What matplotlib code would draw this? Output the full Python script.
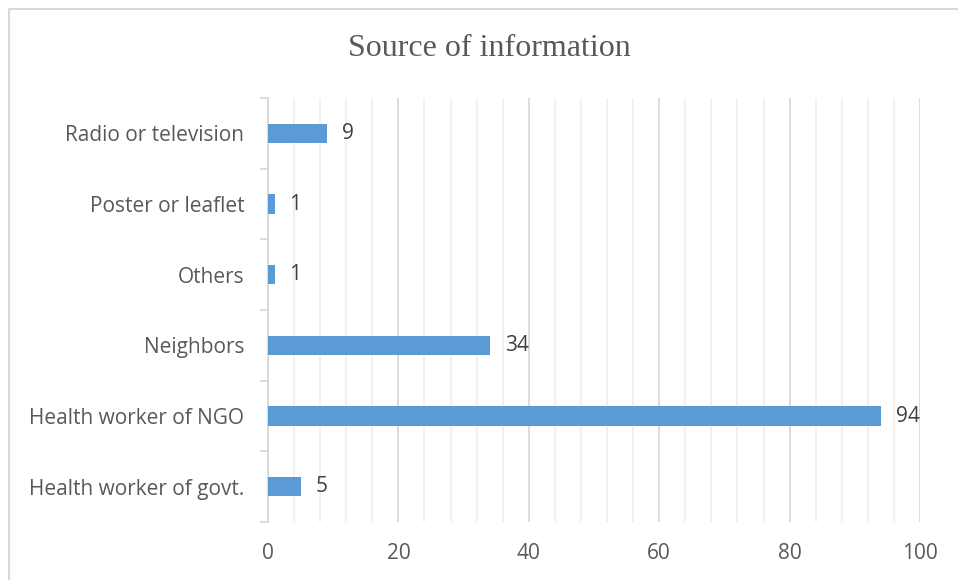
import matplotlib
matplotlib.use("Agg")
import matplotlib.pyplot as plt
from matplotlib.patches import Rectangle
import numpy as np

categories = ["Health worker of govt.", "Health worker of NGO", "Neighbors",
              "Others", "Poster or leaflet", "Radio or television"]
values = [5, 94, 34, 1, 1, 9]
x_ticks = [0, 20, 40, 60, 80, 100]

plt.rcParams['font.family'] = ['Open Sans', 'DejaVu Sans']
text_col = "#595959"

fig = plt.figure(figsize=(9.58, 5.8), dpi=100)
fig.patch.set_facecolor("white")
# outer chart frame
fig.patches.append(Rectangle((9/958, -0.1), 1.2, 1 - 9/580 + 0.1,
                             transform=fig.transFigure, fill=False,
                             edgecolor="#D9D9D9", linewidth=1.5))

ax = fig.add_axes([268/958, 1 - 522/580, (920-268)/958, (522-98)/580])
y = np.arange(len(categories))
ax.barh(y, values, height=0.27, color="#5B9BD5", zorder=3)
for yi, v in zip(y, values):
    ax.text(v + 2.3, yi, str(v), va="center", ha="left", fontsize=15, color="#404040")

ax.set_xlim(0, 100)
ax.set_ylim(-0.5, len(categories) - 0.5)
ax.set_xticks(x_ticks)
ax.set_xticks(np.arange(0, 101, 4), minor=True)
ax.grid(axis="x", which="major", color="#D9D9D9", linewidth=1.3, zorder=0)
ax.grid(axis="x", which="minor", color="#F0F0F0", linewidth=1.3, zorder=0)
ax.tick_params(axis="x", which="both", length=0, labelsize=15, labelcolor=text_col, pad=15)

ax.set_yticks(y)
ax.set_yticklabels(categories)
ax.set_yticks(np.arange(-0.5, len(categories), 1.0), minor=True)
ax.tick_params(axis="y", which="major", length=0, labelsize=15, labelcolor=text_col, pad=17)
ax.tick_params(axis="y", which="minor", length=6, color="#D9D9D9", width=1.3)

for s in ["top", "right", "bottom"]:
    ax.spines[s].set_visible(False)
ax.spines["left"].set_color("#D9D9D9")
ax.spines["left"].set_linewidth(1.3)

fig.text(489/958, 1 - 48/580, "Source of information", ha="center", va="center",
         fontsize=23, color=text_col, family=["Liberation Serif", "DejaVu Serif"])

fig.savefig("out.png", dpi=100, facecolor="white")
